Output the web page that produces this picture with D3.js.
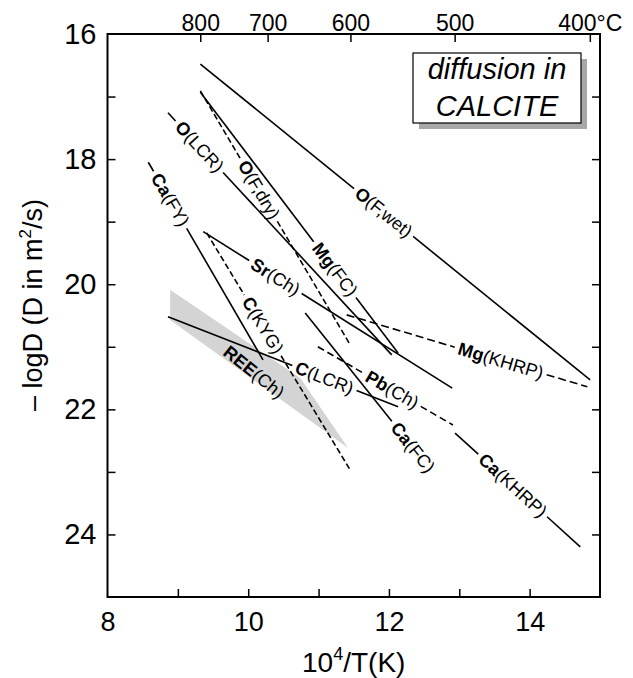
<!DOCTYPE html>
<html><head><meta charset="utf-8">
<script src="https://cdn.jsdelivr.net/npm/d3@7"></script>
<style>
body{margin:0;background:#fff}
text{font-family:"Liberation Sans",Arial,Helvetica,sans-serif;fill:#000}
</style>
</head><body>
<svg id="chart" width="633" height="678"></svg>
<script>
// ---------- data ----------
const xTickValues = [9, 10, 11, 12, 13, 14];
const xTickLabels = [8, 10, 12, 14];
const yTickValues = [17, 18, 19, 20, 21, 22, 23, 24];
const yTickLabels = [16, 18, 20, 22, 24];
const tempTicksC = [800, 700, 600, 500, 400];

const lineElement = ["O", "O", "O", "Ca", "Mg", "Sr", "C", "C", "Pb", "Mg", "Ca", "Ca"];
const lineRef = ["F,wet", "F,dry", "LCR", "FY", "FC", "Ch", "KYG", "LCR", "Ch", "KHRP", "FC", "KHRP"];
const lineX1 = [9.32, 9.32, 8.86, 8.58, 9.32, 9.36, 9.41, 8.86, 10.99, 11.40, 10.81, 12.94];
const lineY1 = [16.48, 16.91, 17.26, 18.05, 16.93, 19.16, 19.18, 20.52, 21.00, 20.49, 20.46, 22.38];
const lineX2 = [14.86, 11.45, 12.04, 10.21, 12.13, 12.90, 11.45, 12.13, 12.91, 14.82, 12.63, 14.72];
const lineY2 = [21.53, 20.97, 21.13, 21.21, 21.10, 21.66, 22.97, 21.96, 22.25, 21.64, 23.02, 24.20];

const reeLabel = ["REE", "Ch"];
const reeX = [8.89, 10.74, 11.42, 8.89];
const reeY = [20.09, 21.50, 22.62, 20.57];

const titleLines = ["diffusion in", "CALCITE"];

// ---------- layout / style ----------
const W = 633, H = 678;
const M = {left: 107.5, right: 33, top: 34, bottom: 81};
const dashed = [false, true, false, false, false, false, true, false, true, true, false, false];
const dashPattern = [null, "6,3", null, null, null, null, "6,3", null, "7,4", "8,4", null, null];
const labelAt = [0.47, 0.39, 0.14, 0.19, 0.68, 0.29, 0.39, 0.68, 0.55, 0.64, 0.84, 0.46];

const svg = d3.select("#chart");
const x = d3.scaleLinear().domain([8, 15]).range([M.left, W - M.right]);
const y = d3.scaleLinear().domain([16, 25]).range([M.top, H - M.bottom]);
const iw = W - M.left - M.right, ih = H - M.top - M.bottom;

// REE band
svg.append("path")
  .datum(reeX.map((v, i) => [v, reeY[i]]))
  .attr("d", d3.line().x(d => x(d[0])).y(d => y(d[1])).curve(d3.curveLinearClosed))
  .attr("fill", "#d4d4d4").attr("stroke", "none");

// frame
svg.append("rect").attr("x", M.left).attr("y", M.top).attr("width", iw).attr("height", ih)
  .attr("fill", "none").attr("stroke", "#000").attr("stroke-width", 2);

function styleAxis(g) {
  g.select(".domain").remove();
  g.selectAll(".tick line").attr("stroke", "#000").attr("stroke-width", 1.5);
  g.selectAll("text").style("font-family", '"Liberation Sans",Arial,sans-serif').attr("fill", "#000");
}
// bottom
const gb = svg.append("g").attr("transform", `translate(0,${H - M.bottom})`)
  .call(d3.axisBottom(x).tickValues(xTickValues).tickSize(-8).tickFormat(""));
styleAxis(gb);
const gbl = svg.append("g").attr("transform", `translate(0,${H - M.bottom})`)
  .call(d3.axisBottom(x).tickValues(xTickLabels).tickSize(0).tickPadding(15).tickFormat(d3.format("d")));
styleAxis(gbl); gbl.selectAll("text").style("font-size", "27px");
// left
const gl = svg.append("g").attr("transform", `translate(${M.left},0)`)
  .call(d3.axisLeft(y).tickValues(yTickValues).tickSize(-8).tickFormat(""));
styleAxis(gl);
const gll = svg.append("g").attr("transform", `translate(${M.left},0)`)
  .call(d3.axisLeft(y).tickValues(yTickLabels).tickSize(0).tickPadding(11).tickFormat(d3.format("d")));
styleAxis(gll); gll.selectAll("text").style("font-size", "29px");
// right
const gr = svg.append("g").attr("transform", `translate(${W - M.right},0)`)
  .call(d3.axisRight(y).tickValues(yTickValues).tickSize(-8).tickFormat(""));
styleAxis(gr);
// top (temperature)
const gt = svg.append("g").attr("transform", `translate(0,${M.top})`)
  .call(d3.axisTop(x).tickValues(tempTicksC.map(t => 1e4 / (t + 273.15))).tickSize(-8).tickPadding(3)
    .tickFormat((d, i) => tempTicksC[i] + (i === tempTicksC.length - 1 ? "°C" : "")));
styleAxis(gt); gt.selectAll("text").style("font-size", "23px");

// axis titles
const xt = svg.append("text").attr("x", M.left + iw / 2).attr("y", 672).attr("text-anchor", "middle")
  .style("font-size", "28px");
xt.append("tspan").text("10");
xt.append("tspan").attr("dy", -12).style("font-size", "18px").text("4");
xt.append("tspan").attr("dy", 12).text("/T(K)");

const yt = svg.append("text").attr("transform", `translate(42,305) rotate(-90)`)
  .attr("text-anchor", "middle").style("font-size", "27px");
yt.append("tspan").text("– logD (D in m");
yt.append("tspan").attr("dy", -11).style("font-size", "17px").text("2");
yt.append("tspan").attr("dy", 11).text("/s)");

// diffusion lines with labels
const lineGen = d3.line().x(d => x(d[0])).y(d => y(d[1]));
lineElement.forEach((el, i) => {
  const p1 = [lineX1[i], lineY1[i]], p2 = [lineX2[i], lineY2[i]];
  const sx1 = x(p1[0]), sy1 = y(p1[1]), sx2 = x(p2[0]), sy2 = y(p2[1]);
  const L = Math.hypot(sx2 - sx1, sy2 - sy1);
  const ang = Math.atan2(sy2 - sy1, sx2 - sx1) * 180 / Math.PI;
  const t = labelAt[i];
  const cx = sx1 + (sx2 - sx1) * t, cy = sy1 + (sy2 - sy1) * t;
  const lab = svg.append("text").attr("transform", `translate(${cx},${cy}) rotate(${ang})`)
    .attr("text-anchor", "middle").attr("dominant-baseline", "central").style("font-size", "18px");
  lab.append("tspan").style("font-weight", "bold").text(el);
  lab.append("tspan").text("(" + lineRef[i] + ")");
  const half = lab.node().getComputedTextLength() / 2 + 4;
  const f1 = Math.max(0, t - half / L), f2 = Math.min(1, t + half / L);
  const interp = f => [p1[0] + (p2[0] - p1[0]) * f, p1[1] + (p2[1] - p1[1]) * f];
  const segs = [];
  if (f1 * L > 1) segs.push([interp(0), interp(f1)]);
  if ((1 - f2) * L > 1) segs.push([interp(f2), interp(1)]);
  segs.forEach(s => {
    svg.append("path").attr("d", lineGen(s)).attr("fill", "none").attr("stroke", "#000")
      .attr("stroke-width", 1.6).attr("stroke-dasharray", dashed[i] ? dashPattern[i] : null);
  });
});

// REE label
{
  const mid = [(reeX[0] + reeX[3]) / 2, (reeY[0] + reeY[3]) / 2], tip = [reeX[2], reeY[2]];
  const ang = Math.atan2(y(tip[1]) - y(mid[1]), x(tip[0]) - x(mid[0])) * 180 / Math.PI;
  const cxd = mid[0] + (tip[0] - mid[0]) * 0.47, cyd = mid[1] + (tip[1] - mid[1]) * 0.47;
  const lab = svg.append("text").attr("transform", `translate(${x(cxd)},${y(cyd)}) rotate(${ang})`)
    .attr("text-anchor", "middle").attr("dominant-baseline", "central").style("font-size", "18px");
  lab.append("tspan").style("font-weight", "bold").text(reeLabel[0]);
  lab.append("tspan").text("(" + reeLabel[1] + ")");
}

// title box
const bx = 413, by = 53, bw = 168, bh = 70;
svg.append("rect").attr("x", bx + 6).attr("y", by + 6).attr("width", bw).attr("height", bh).attr("fill", "#a8a8a8");
svg.append("rect").attr("x", bx).attr("y", by).attr("width", bw).attr("height", bh)
  .attr("fill", "#fff").attr("stroke", "#000").attr("stroke-width", 1.2);
titleLines.forEach((s, i) => {
  svg.append("text").attr("x", bx + bw / 2).attr("y", by + 26 + i * 37).attr("text-anchor", "middle")
    .style("font-size", "29px").style("font-style", "italic").text(s);
});
</script>
</body></html>
